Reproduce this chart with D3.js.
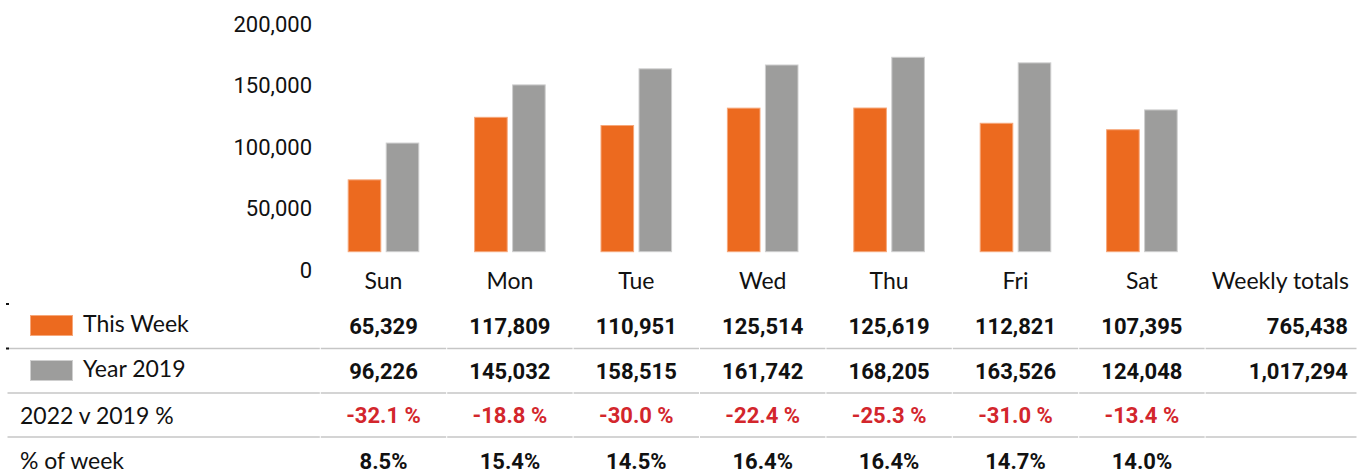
<!DOCTYPE html>
<html>
<head>
<meta charset="utf-8">
<script src="https://cdn.jsdelivr.net/npm/d3@7"></script>
<style>
	body { margin: 0; background: #fff; }
	svg { display: block; }
	.lbl { font-family: Lato, "Open Sans", sans-serif; font-size: 23px; fill: #111; }
	.num { font-family: Roboto, sans-serif; font-weight: 700; font-size: 22px; fill: #111; }
	.axis text { font-family: Roboto, sans-serif; font-size: 22px; fill: #111; }
</style>
</head>
<body>
<svg id="chart"></svg>
<script>
const days = ["Sun", "Mon", "Tue", "Wed", "Thu", "Fri", "Sat"];
const seriesNames = ["This Week", "Year 2019"];
const thisWeek = [65329, 117809, 110951, 125514, 125619, 112821, 107395];
const year2019 = [96226, 145032, 158515, 161742, 168205, 163526, 124048];
const changePct = [-32.1, -18.8, -30.0, -22.4, -25.3, -31.0, -13.4];
const shareOfWeek = [8.5, 15.4, 14.5, 16.4, 16.4, 14.7, 14.0];
const weeklyTotals = [765438, 1017294];
const rowLabels = ["2022 v 2019 %", "% of week"];
const totalsLabel = "Weekly totals";
const yTicks = [0, 50000, 100000, 150000, 200000];

const width = 1357, height = 476;
const colors = ["#ec6a1f", "#9d9d9c"];
const strokes = ["#f6a77a", "#cfcfcf"];
const red = "#d3262c";

const svg = d3.select("#chart").attr("width", width).attr("height", height);

// scales
const x = d3.scaleBand().domain(days).range([320.3, 1205.1]);
const xs = d3.scaleBand().domain(seriesNames).range([0, 71.6]).paddingInner(0.116);
const y = d3.scaleLinear().domain([0, 200000]).range([257.2, 18.9]);
const yLabel = d3.scaleLinear().domain([0, 200000]).range([269.5, 23.5]);
const baseY = y(0) - 5;

// y axis labels (no line, no ticks)
const yAxis = svg.append("g")
	.attr("class", "axis")
	.attr("transform", "translate(312,0)")
	.call(d3.axisLeft(yLabel).tickValues(yTicks).tickSize(0).tickPadding(0).tickFormat(d3.format(",")));
yAxis.select(".domain").remove();
yAxis.selectAll("text").attr("dy", "0.35em");

// bars
const series = [thisWeek, year2019];
const groups = svg.append("g").selectAll("g")
	.data(days)
	.join("g")
	.attr("transform", d => `translate(${x(d) + x.bandwidth() / 2 - 35.8},0)`);

groups.selectAll("rect")
	.data((d, i) => seriesNames.map((s, j) => ({s, j, v: series[j][i]})))
	.join("rect")
	.attr("x", d => xs(d.s) + 0.5)
	.attr("y", d => y(d.v) + 0.5)
	.attr("width", xs.bandwidth() - 1)
	.attr("height", d => baseY - y(d.v) - 1)
	.attr("fill", d => colors[d.j])
	.attr("stroke", d => strokes[d.j])
	.attr("stroke-width", 1);

// day headers
const cx = d => x(d) + x.bandwidth() / 2;
svg.append("g").selectAll("text")
	.data(days)
	.join("text")
	.attr("class", "lbl")
	.attr("x", cx)
	.attr("y", 281)
	.attr("dy", "0.35em")
	.attr("text-anchor", "middle")
	.text(d => d);

svg.append("text")
	.attr("class", "lbl")
	.attr("x", 1349)
	.attr("y", 281)
	.attr("dy", "0.35em")
	.attr("text-anchor", "end")
	.text(totalsLabel);

// table rows
const rowY = [326, 371, 415.5, 461];
const lineY = [348.5, 393, 437];
const fmt = d3.format(",");

// separators, split per cell
const cellEdges = [7, ...days.map(d => x(d)), x.range()[1], width];
lineY.forEach(ly => {
	svg.append("g").selectAll("line")
		.data(d3.pairs(cellEdges))
		.join("line")
		.attr("x1", d => d[0] + 0.5)
		.attr("x2", d => d[1] - 0.5)
		.attr("y1", ly)
		.attr("y2", ly)
		.attr("stroke", "#c6c6c6")
		.attr("stroke-width", 1.5);
});

// stray marks at the left edge
svg.append("g").selectAll("rect")
	.data([304, 348.5])
	.join("rect")
	.attr("x", 6)
	.attr("y", d => d - 1)
	.attr("width", 3)
	.attr("height", 2)
	.attr("fill", "#111");

// legend rows
seriesNames.forEach((s, j) => {
	svg.append("rect")
		.attr("x", 30.5)
		.attr("y", rowY[j] - 10.5)
		.attr("width", 42)
		.attr("height", 20)
		.attr("fill", colors[j])
		.attr("stroke", strokes[j]);
	svg.append("text")
		.attr("class", "lbl")
		.attr("x", 83)
		.attr("y", rowY[j] - 2)
		.attr("dy", "0.35em")
		.text(s);
	svg.append("g").selectAll("text")
		.data(series[j])
		.join("text")
		.attr("class", "num")
		.attr("x", (d, i) => cx(days[i]))
		.attr("y", rowY[j])
		.attr("dy", "0.35em")
		.attr("text-anchor", "middle")
		.text(d => fmt(d));
	svg.append("text")
		.attr("class", "num")
		.attr("x", 1348)
		.attr("y", rowY[j])
		.attr("dy", "0.35em")
		.attr("text-anchor", "end")
		.text(fmt(weeklyTotals[j]));
});

// percentage rows
rowLabels.forEach((l, k) => {
	svg.append("text")
		.attr("class", "lbl")
		.attr("x", 20)
		.attr("y", rowY[k + 2])
		.attr("dy", "0.35em")
		.text(l);
});

svg.append("g").selectAll("text")
	.data(changePct)
	.join("text")
	.attr("class", "num")
	.attr("x", (d, i) => cx(days[i]))
	.attr("y", rowY[2])
	.attr("dy", "0.35em")
	.attr("text-anchor", "middle")
	.style("fill", red)
	.text(d => d.toFixed(1) + " %");

svg.append("g").selectAll("text")
	.data(shareOfWeek)
	.join("text")
	.attr("class", "num")
	.attr("x", (d, i) => cx(days[i]))
	.attr("y", rowY[3])
	.attr("dy", "0.35em")
	.attr("text-anchor", "middle")
	.text(d => d.toFixed(1) + "%");
</script>
</body>
</html>
